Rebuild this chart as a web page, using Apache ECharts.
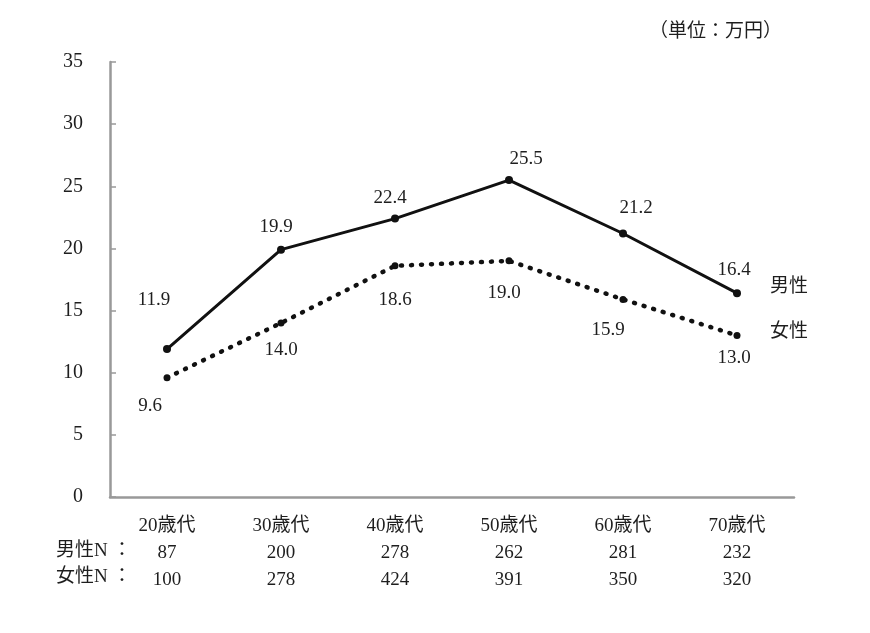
<!DOCTYPE html>
<html>
<head>
<meta charset="utf-8">
<script src="https://cdn.jsdelivr.net/npm/echarts@6/dist/echarts.min.js"></script>
<style>
html,body{margin:0;padding:0;background:#fff;}
#chart{width:870px;height:633px;}
</style>
</head>
<body>
<div id="chart"></div>
<script>
// ---- data ----
const categories = ['20歳代', '30歳代', '40歳代', '50歳代', '60歳代', '70歳代'];
const maleValues = [11.9, 19.9, 22.4, 25.5, 21.2, 16.4];
const femaleValues = [9.6, 14.0, 18.6, 19.0, 15.9, 13.0];
const maleN = [87, 200, 278, 262, 281, 232];
const femaleN = [100, 278, 424, 391, 350, 320];
const seriesNames = ['男性', '女性'];
const rowHeaders = ['男性N ：', '女性N ：'];
const unitText = '（単位：万円）';
const yTicks = { min: 0, max: 35, interval: 5 };

// ---- layout (label placements, not data) ----
const maleLabelOffsets = [[-13, -49], [-5, -23], [-5, -21], [17, -21], [13, -25], [-3, -23]];
const femaleLabelOffsets = [[-17, 28], [0, 27], [0, 34], [-5, 32], [-15, 31], [-3, 23]];

const FONT = "'Liberation Serif', 'Noto Sans CJK JP', serif";
const TEXT = '#1e1e1e';

function withLabels(values, offsets) {
  return values.map((v, i) => ({
    value: v,
    label: { offset: offsets[i] }
  }));
}

const chart = echarts.init(document.getElementById('chart'));
chart.setOption({
  animation: false,
  backgroundColor: '#fff',
  grid: { left: 110, right: 76, top: 62, bottom: 136, containLabel: false },
  xAxis: {
    type: 'category',
    data: categories,
    boundaryGap: true,
    axisLine: { show: true, lineStyle: { color: '#999', width: 2.5 } },
    axisTick: { show: false },
    axisLabel: {
      margin: 16,
      interval: 0,
      fontFamily: FONT,
      fontSize: 19,
      color: TEXT,
      lineHeight: 27,
      formatter: function (val, idx) {
        return val + '\n' + maleN[idx] + '\n' + femaleN[idx];
      }
    },
    splitLine: { show: false }
  },
  yAxis: {
    type: 'value',
    min: yTicks.min,
    max: yTicks.max,
    interval: yTicks.interval,
    axisLine: { show: true, lineStyle: { color: '#999', width: 2.5 } },
    axisTick: { show: true, inside: true, length: 6, lineStyle: { color: '#999', width: 1.5 } },
    axisLabel: { margin: 27, fontFamily: FONT, fontSize: 20, color: TEXT },
    splitLine: { show: false }
  },
  series: [
    {
      name: seriesNames[0],
      type: 'line',
      data: withLabels(maleValues, maleLabelOffsets),
      symbol: 'circle',
      symbolSize: 8,
      itemStyle: { color: '#111' },
      lineStyle: { color: '#111', width: 3 },
      label: {
        show: true,
        position: 'inside',
        fontFamily: FONT,
        fontSize: 19,
        color: TEXT,
        formatter: p => p.value.toFixed(1)
      },
      endLabel: {
        show: true,
        formatter: seriesNames[0],
        distance: 33,
        offset: [0, -6],
        fontFamily: FONT,
        fontSize: 19,
        color: TEXT
      },
      z: 3
    },
    {
      name: seriesNames[1],
      type: 'line',
      data: withLabels(femaleValues, femaleLabelOffsets),
      symbol: 'circle',
      symbolSize: 7,
      itemStyle: { color: '#111' },
      lineStyle: { color: '#111', width: 4.5, type: [1, 9], cap: 'round' },
      label: {
        show: true,
        position: 'inside',
        fontFamily: FONT,
        fontSize: 19,
        color: TEXT,
        formatter: p => p.value.toFixed(1)
      },
      endLabel: {
        show: true,
        formatter: seriesNames[1],
        distance: 33,
        offset: [0, -3],
        fontFamily: FONT,
        fontSize: 19,
        color: TEXT
      },
      z: 2
    }
  ],
  graphic: [
    {
      type: 'text',
      right: 88,
      top: 20,
      style: { text: unitText, font: "19px 'Noto Sans CJK JP'", fill: TEXT }
    },
    {
      type: 'text',
      left: 56,
      top: 542,
      style: { text: rowHeaders[0], font: "19px 'Liberation Serif', 'Noto Sans CJK JP'", fill: TEXT }
    },
    {
      type: 'text',
      left: 56,
      top: 568,
      style: { text: rowHeaders[1], font: "19px 'Liberation Serif', 'Noto Sans CJK JP'", fill: TEXT }
    }
  ]
});
</script>
</body>
</html>
